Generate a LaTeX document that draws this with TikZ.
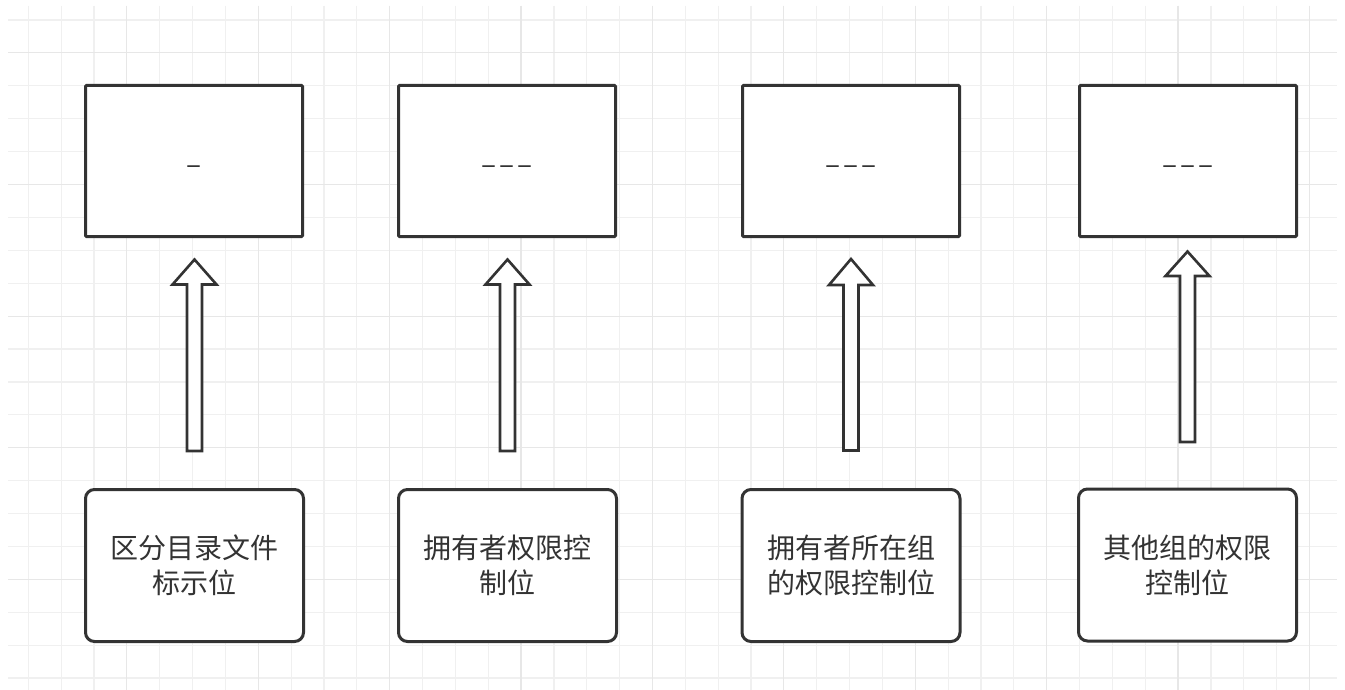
\documentclass[tikz,border=0pt]{standalone}
\usepackage{fontspec}
\newfontfamily\cjk{Noto Sans CJK SC}
\usetikzlibrary{calc}
\definecolor{ink}{HTML}{333333}
\definecolor{gridminor}{HTML}{F0F0F0}
\definecolor{gridmajor}{HTML}{E7E7E7}
\newcommand\dashtext{–\kern3pt–\kern3pt–}
\newcommand\blockarrow[5]{%
  % #1 from node, #2 to node, #3 gap below top box (tip), #4 head length, #5 gap above bottom box
  \draw[blockarr] let \p1=(#1.north), \p2=(#2.south) in
    (\x1-7.5,\y1+#5) -- (\x1-7.5,\y2-#3-#4) -- (\x1-22,\y2-#3-#4) -- (\x1,\y2-#3)
    -- (\x1+22,\y2-#3-#4) -- (\x1+7.5,\y2-#3-#4) -- (\x1+7.5,\y1+#5) -- cycle;}
\begin{document}
\begin{tikzpicture}[x=1pt,y=-1pt,
  topbox/.style={draw=ink, line width=3pt, fill=white, minimum width=217pt, minimum height=151pt,
    inner sep=0pt, rounded corners=1pt, font=\cjk\fontsize{28}{36}\selectfont, text=ink,
    text height=28pt, text depth=0pt},
  botbox/.style={draw=ink, line width=3pt, fill=white, minimum width=218pt, minimum height=152pt,
    inner sep=0pt, rounded corners=9pt, align=center, font=\cjk\fontsize{28}{35}\selectfont, text=ink},
  blockarr/.style={draw=ink, line width=2.6pt, fill=white, line join=miter},
  minorline/.style={gridminor, line width=1.2pt},
  majorline/.style={gridmajor, line width=1.2pt}]
\useasboundingbox (0,0) rectangle (1345,690);
\fill[white] (0,0) rectangle (1345,690);
% grid
\foreach \k in {0,...,39} \draw[minorline] ({28.3+32.85*\k},6) -- ({28.3+32.85*\k},690);
\foreach \k in {0,...,20} \draw[minorline] (8,{20+32.9*\k}) -- (1337,{20+32.9*\k});
\foreach \k in {3,7,...,39} \draw[majorline] ({28.3+32.85*\k},6) -- ({28.3+32.85*\k},690);
\foreach \k in {1,5,...,17} \draw[majorline] (8,{20+32.9*\k}) -- (1337,{20+32.9*\k});
% top boxes
\node[topbox] (t1) at (194,161) {–};
\node[topbox] (t2) at (507,161) {\dashtext};
\node[topbox] (t3) at (851,161) {\dashtext};
\node[topbox] (t4) at (1188,161) {\dashtext};
% bottom boxes
\node[botbox] (b1) at (194.5,565.5) {区分目录文件\\标示位};
\node[botbox] (b2) at (507.5,565.5) {拥有者权限控\\制位};
\node[botbox] (b3) at (851,565.5) {拥有者所在组\\的权限控制位};
\node[botbox] (b4) at (1187.5,565) {其他组的权限\\控制位};
% block arrows: from bottom box toward top box
\blockarrow{b1}{t1}{21.5}{25}{37}
\blockarrow{b2}{t2}{21.5}{25}{37}
\blockarrow{b3}{t3}{21}{26}{37.5}
\blockarrow{b4}{t4}{13.5}{24.5}{45.5}
\end{tikzpicture}
\end{document}
